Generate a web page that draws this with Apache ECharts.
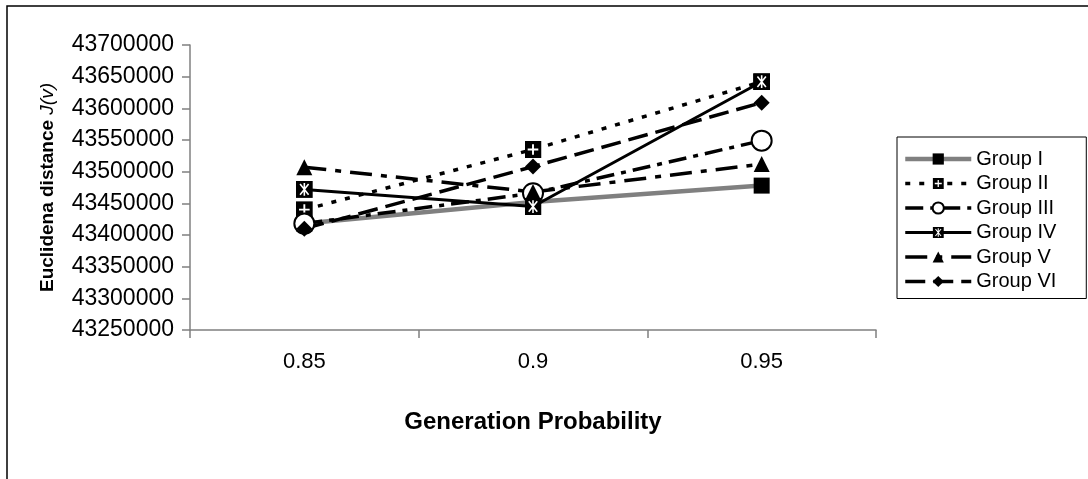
<!DOCTYPE html>
<html>
<head>
<meta charset="utf-8">
<script src="https://cdn.jsdelivr.net/npm/echarts@6/dist/echarts.min.js"></script>
<style>
html,body{margin:0;padding:0;background:#fff;}
#chart{width:1088px;height:479px;}
</style>
</head>
<body>
<div id="chart"></div>
<script>
var categories = ['0.85', '0.9', '0.95'];
var groupI   = [43418000, 43452000, 43478000];
var groupII  = [43440000, 43535000, 43642000];
var groupIII = [43418000, 43466000, 43549000];
var groupIV  = [43472000, 43445000, 43642000];
var groupV   = [43507000, 43468000, 43512000];
var groupVI  = [43410000, 43508000, 43609000];
var seriesNames = ['Group I', 'Group II', 'Group III', 'Group IV', 'Group V', 'Group VI'];
var yMin = 43250000, yMax = 43700000, yStep = 50000;

function svgSym(s){ return 'image://data:image/svg+xml;utf8,' + encodeURIComponent(s); }
var plusSquare = svgSym("<svg xmlns='http://www.w3.org/2000/svg' width='32' height='32' viewBox='0 0 16 16'><rect width='16' height='16' fill='black'/><path d='M8 3V13M3 8H13' stroke='white' stroke-width='1.8'/></svg>");
var starSquare = svgSym("<svg xmlns='http://www.w3.org/2000/svg' width='32' height='32' viewBox='0 0 16 16'><rect width='16' height='16' fill='black'/><path d='M4 3L12 13M12 3L4 13M8 2V14' stroke='white' stroke-width='1.5'/></svg>");

var chart = echarts.init(document.getElementById('chart'), null, {renderer: 'canvas'});
var font = 'Liberation Sans, Arial, sans-serif';

function mk(name, data, lineColor, width, type, symbol, size, itemStyle){
  return {
    name: name, type: 'line', data: data,
    symbol: symbol, symbolSize: size,
    lineStyle: {color: lineColor, width: width, type: type, cap: 'butt'},
    itemStyle: itemStyle || {color: '#000', borderWidth: 0},
    emphasis: {disabled: true},
    animation: false
  };
}

var option = {
  animation: false,
  backgroundColor: '#fff',
  graphic: [{
    type: 'rect', shape: {x: 7, y: 6, width: 1200, height: 600},
    style: {fill: 'none', stroke: '#000', lineWidth: 1.5}, silent: true, z: -10
  }],
  grid: {left: 190, right: 212, top: 45, bottom: 149, containLabel: false},
  legend: {
    orient: 'vertical', left: 897, top: 137,
    padding: [12, 30, 7, 6],
    itemWidth: 66, itemHeight: 14, itemGap: 4.5,
    backgroundColor: '#fff', borderColor: '#000', borderWidth: 1,
    lineStyle: {width: 'inherit'},
    textStyle: {fontFamily: font, fontSize: 20, color: '#000', lineHeight: 20},
    data: seriesNames
  },
  xAxis: {
    type: 'category', data: categories, boundaryGap: true,
    name: 'Generation Probability', nameLocation: 'middle', nameGap: 80,
    nameTextStyle: {fontFamily: font, fontSize: 24, fontWeight: 'bold', color: '#000'},
    axisLine: {lineStyle: {color: '#808080', width: 1.5}},
    axisTick: {show: true, alignWithLabel: false, length: 8, lineStyle: {color: '#808080', width: 1.5}},
    axisLabel: {fontFamily: font, fontSize: 22, color: '#000', margin: 21},
    splitLine: {show: false}
  },
  yAxis: {
    type: 'value', min: yMin, max: yMax, interval: yStep,
    name: '{b|Euclidena distance }{i|J(v)}', nameLocation: 'middle', nameGap: 133,
    nameRotate: 90,
    nameTextStyle: {
      fontFamily: font, fontSize: 19, color: '#000',
      rich: {
        b: {fontFamily: font, fontSize: 19, fontWeight: 'bold', color: '#000'},
        i: {fontFamily: font, fontSize: 19, fontStyle: 'italic', color: '#000'}
      }
    },
    axisLine: {show: true, lineStyle: {color: '#808080', width: 1.5}},
    axisTick: {show: true, length: 8, lineStyle: {color: '#808080', width: 1.5}},
    axisLabel: {fontFamily: font, fontSize: 23, color: '#000', margin: 16,
      formatter: function(v){ return String(v); }},
    splitLine: {show: false}
  },
  series: [
    mk('Group I', groupI, '#808080', 4.5, 'solid', 'rect', 16),
    mk('Group II', groupII, '#000', 3.5, [5, 9], plusSquare, 17),
    mk('Group III', groupIII, '#000', 3.5, [18, 7, 5, 7], 'circle', 20, {color: '#fff', borderColor: '#000', borderWidth: 2}),
    mk('Group IV', groupIV, '#000', 3, 'solid', starSquare, 17),
    mk('Group V', groupV, '#000', 3.5, [22, 9, 6, 9], 'triangle', 16),
    mk('Group VI', groupVI, '#000', 3.5, [20, 8], 'diamond', 16)
  ]
};
chart.setOption(option);
</script>
</body>
</html>
